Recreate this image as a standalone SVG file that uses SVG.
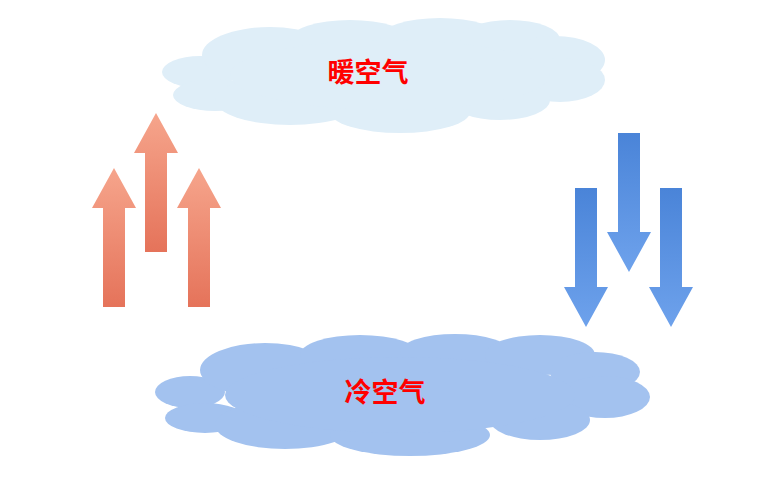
<svg xmlns="http://www.w3.org/2000/svg" width="770" height="477" viewBox="0 0 770 477">
<defs>
<linearGradient id="up" x1="0" y1="0" x2="0" y2="1"><stop offset="0" stop-color="#f6a58c"/><stop offset="1" stop-color="#e5735a"/></linearGradient>
<linearGradient id="dn" x1="0" y1="0" x2="0" y2="1"><stop offset="0" stop-color="#4a84d8"/><stop offset="1" stop-color="#6ea2ec"/></linearGradient>
<style>.t{font-family:"Noto Sans CJK SC",sans-serif;font-weight:bold;font-size:27px;fill:#ff0000;text-anchor:middle}</style>
</defs>
<g id="warm-cloud" fill="#dfeef8">
<ellipse cx="200" cy="72" rx="38" ry="16"/><ellipse cx="215" cy="95" rx="42" ry="16"/>
<ellipse cx="270" cy="55" rx="68" ry="28"/><ellipse cx="290" cy="100" rx="75" ry="25"/>
<ellipse cx="350" cy="40" rx="60" ry="20"/><ellipse cx="440" cy="38" rx="60" ry="20"/>
<ellipse cx="510" cy="40" rx="50" ry="20"/><ellipse cx="555" cy="60" rx="50" ry="24"/>
<ellipse cx="560" cy="80" rx="45" ry="22"/><ellipse cx="500" cy="100" rx="50" ry="20"/>
<ellipse cx="400" cy="112" rx="70" ry="21"/><ellipse cx="390" cy="75" rx="160" ry="35"/>
<text class="t" x="368" y="82">暖空气</text>
</g>
<g id="cold-cloud" fill="#a3c2ef">
<ellipse cx="190" cy="392" rx="35" ry="16"/><ellipse cx="205" cy="418" rx="40" ry="15"/>
<ellipse cx="265" cy="370" rx="65" ry="27"/><ellipse cx="285" cy="425" rx="70" ry="24"/>
<ellipse cx="360" cy="355" rx="60" ry="20"/><ellipse cx="455" cy="352" rx="55" ry="18"/>
<ellipse cx="540" cy="355" rx="55" ry="20"/><ellipse cx="595" cy="372" rx="45" ry="20"/>
<ellipse cx="605" cy="397" rx="45" ry="21"/><ellipse cx="540" cy="420" rx="50" ry="20"/>
<ellipse cx="410" cy="435" rx="80" ry="21"/><ellipse cx="400" cy="395" rx="175" ry="38"/>
<text class="t" x="385" y="402">冷空气</text>
</g>
<g id="up-arrows" fill="url(#up)">
<polygon points="103,307 125,307 125,208 136,208 114,168 92,208 103,208"/>
<polygon points="145,252 167,252 167,153 178,153 156,113 134,153 145,153"/>
<polygon points="188,307 210,307 210,208 221,208 199,168 177,208 188,208"/>
</g>
<g id="down-arrows" fill="url(#dn)">
<polygon points="575,188 597,188 597,287 608,287 586,327 564,287 575,287"/>
<polygon points="618,133 640,133 640,232 651,232 629,272 607,232 618,232"/>
<polygon points="660,188 682,188 682,287 693,287 671,327 649,287 660,287"/>
</g>
</svg>
